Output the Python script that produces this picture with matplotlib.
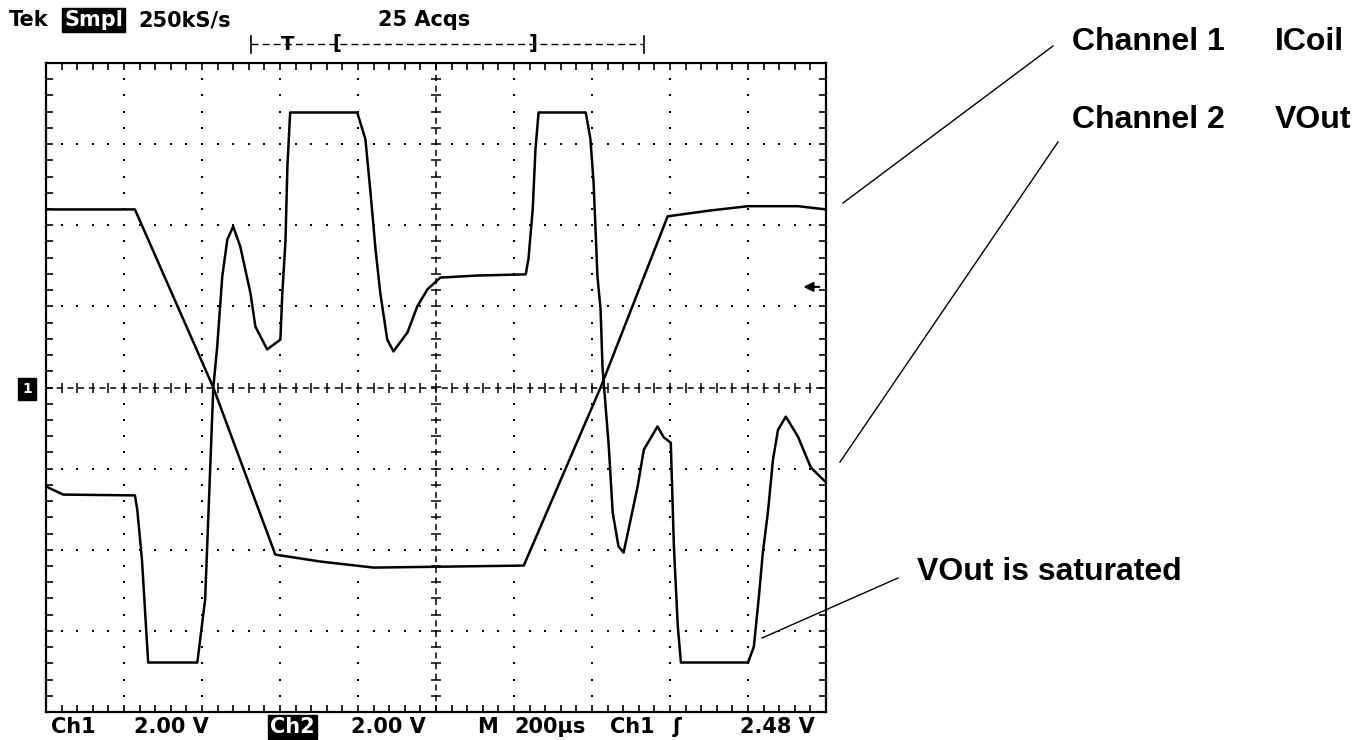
import numpy as np
import matplotlib
matplotlib.use('Agg')
import matplotlib.pyplot as plt

# scope settings (2 V/div, 200 us/div, 10 x 8 divisions)
t_div = 200.0
v_div = 2.0
trig_level = 2.48

# Channel 1 - ICoil (time in us, volts)
t1 = [0, 228, 429, 588, 703, 840, 1225, 1422, 1594, 1700, 1800, 1928, 2000]
v1 = [4.39, 4.39, 0.0, -4.12, -4.29, -4.44, -4.39, 0.0, 4.22, 4.36, 4.47, 4.47, 4.39]

# Channel 2 - VOut
t2 = [0, 44, 228, 234, 246, 262, 388, 408, 429, 439, 452, 465, 480, 498, 524, 537,
      567, 601, 606, 614, 619, 626, 798, 819, 832, 845, 857, 875, 891, 927, 952,
      978, 1011, 1106, 1230, 1237, 1248, 1255, 1263, 1384, 1396, 1404, 1414, 1422,
      1427, 1443, 1453, 1468, 1481, 1499, 1517, 1533, 1568, 1584, 1602, 1610, 1620,
      1628, 1800, 1815, 1828, 1838, 1851, 1864, 1877, 1897, 1928, 1961, 2000]
v2 = [-2.44, -2.64, -2.66, -3.01, -4.24, -6.78, -6.78, -5.23, 0.0, 1.01, 2.74, 3.65,
      3.97, 3.48, 2.34, 1.50, 0.94, 1.18, 2.34, 3.60, 5.45, 6.78, 6.78, 6.12, 4.81,
      3.40, 2.34, 1.18, 0.89, 1.36, 2.00, 2.42, 2.71, 2.76, 2.79, 3.16, 4.39, 5.87,
      6.78, 6.78, 6.12, 5.06, 2.74, 1.92, 0.49, -1.45, -3.08, -3.92, -4.07, -3.26,
      -2.44, -1.53, -0.96, -1.23, -1.36, -3.92, -5.89, -6.78, -6.78, -6.39, -5.15,
      -4.07, -3.08, -1.78, -1.04, -0.72, -1.21, -1.97, -2.34]

W, H = 1361, 740
fig = plt.figure(figsize=(W / 100, H / 100), dpi=100)
fig.patch.set_facecolor('white')

ax = fig.add_axes([46 / W, (H - 712) / H, 780 / W, 649 / H])
ax.set_xlim(0, 10 * t_div)
ax.set_ylim(-4 * v_div, 4 * v_div)
ax.set_xticks(np.arange(0, 10 * t_div + 1, t_div))
ax.set_yticks(np.arange(-4 * v_div, 4 * v_div + 0.01, v_div))
ax.set_xticks(np.arange(0, 10 * t_div + 1, t_div / 5), minor=True)
ax.set_yticks(np.arange(-4 * v_div, 4 * v_div + 0.01, v_div / 5), minor=True)
ax.tick_params(which='both', direction='in', top=True, right=True, length=5,
               width=1.2, labelbottom=False, labelleft=False)
for s in ax.spines.values():
    s.set_linewidth(1.6)

# dotted graticule
xs_fine = np.arange(0, 10 * t_div + 1, t_div / 5)
ys_fine = np.arange(-4 * v_div, 4 * v_div + 0.01, v_div / 5)
for gx in np.arange(t_div, 10 * t_div, t_div):
    if gx == 5 * t_div:
        continue
    ax.plot(np.full_like(ys_fine, gx), ys_fine, 's', color='k', ms=1.8, mew=0)
for gy in np.arange(-3 * v_div, 4 * v_div, v_div):
    if gy == 0:
        continue
    ax.plot(xs_fine, np.full_like(xs_fine, gy), 's', color='k', ms=1.8, mew=0)

# centre cross with ticks
ax.axhline(0, color='k', lw=1.1, dashes=(4, 3))
ax.axvline(5 * t_div, color='k', lw=1.1, dashes=(4, 3))
ax.plot(xs_fine, np.zeros_like(xs_fine), '|', color='k', ms=7, mew=1.1)
ax.plot(np.full_like(ys_fine, 5 * t_div), ys_fine, '_', color='k', ms=7, mew=1.1)

# traces
ax.plot(t1, v1, color='k', lw=1.8)
ax.plot(t2, v2, color='k', lw=1.8)

# trigger level arrow
ax.annotate('', xy=(1935, trig_level), xytext=(1990, trig_level),
            arrowprops=dict(arrowstyle='-|>', color='k', lw=1.5, mutation_scale=14))

# overlay in pixel coordinates for scope readouts and annotations
ov = fig.add_axes([0, 0, 1, 1], facecolor='none')
ov.set_xlim(0, W)
ov.set_ylim(H, 0)
ov.axis('off')

scope = dict(fontsize=15, fontweight='bold', family='DejaVu Sans', va='center', color='k')
ov.text(9, 20, 'Tek', **scope)
ov.text(64, 20, 'Smpl', **dict(scope, color='white'),
        bbox=dict(facecolor='black', edgecolor='black', pad=1.5))
ov.text(138, 20, '250kS/s', **scope)
ov.text(378, 20, '25 Acqs', **scope)

# record length bar
ov.plot([251, 644], [44, 44], color='k', lw=1, dashes=(5, 3))
ov.plot([251, 251], [36, 53], color='k', lw=1.2)
ov.plot([644, 644], [36, 53], color='k', lw=1.2)
ov.text(288, 44, 'T', ha='center', **dict(scope, fontsize=14))
ov.text(337, 44, '[', ha='center', **dict(scope, fontsize=14))
ov.text(533, 44, ']', ha='center', **dict(scope, fontsize=14))

# ground marker
ov.text(27, 389, '1', ha='center', **dict(scope, fontsize=10, color='white'),
        bbox=dict(facecolor='black', edgecolor='black', pad=3))

ov.text(51, 727, 'Ch1', **scope)
ov.text(134, 727, '2.00 V', **scope)
ov.text(270, 727, 'Ch2', **dict(scope, color='white'),
        bbox=dict(facecolor='black', edgecolor='black', pad=1.5))
ov.text(351, 727, '2.00 V', **scope)
ov.text(477, 727, 'M', **scope)
ov.text(514, 727, '200µs', **scope)
ov.text(610, 727, 'Ch1', **scope)
ov.text(673, 727, 'ʃ', **scope)
ov.text(740, 727, '2.48 V', **scope)

note = dict(fontsize=23, fontweight='bold', family='Liberation Sans', va='center', color='k')
ov.text(1072, 42, 'Channel 1', **note)
ov.text(1275, 42, 'ICoil', **note)
ov.text(1072, 120, 'Channel 2', **note)
ov.text(1275, 120, 'VOut', **note)
ov.text(917, 572, 'VOut is saturated', **note)

ov.plot([843, 1053], [203, 46], color='k', lw=1)
ov.plot([840, 1058], [462, 142], color='k', lw=1)
ov.plot([762, 898], [638, 578], color='k', lw=1)

fig.savefig('out.png', dpi=100)
